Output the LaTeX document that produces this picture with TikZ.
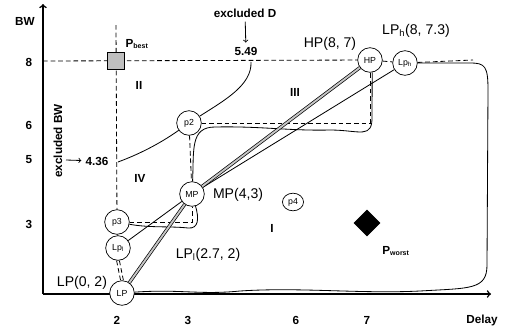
\documentclass[tikz,border=0pt]{standalone}
\usepackage{fontspec}
\setmainfont{Liberation Sans}
\usetikzlibrary{shapes.geometric}
\tikzset{
  pt/.style={circle,draw,fill=white,line width=0.6pt,minimum size=21pt,inner sep=0pt,font=\fontsize{7.5}{8}\selectfont},
  lbl/.style={font=\fontsize{12}{14}\selectfont},
  bold/.style={font=\fontsize{10}{12}\selectfont\bfseries},
  hatch/.style={draw,line width=0.6pt,double=gray!45,double distance=1.6pt},
  grid/.style={dash pattern=on 4pt off 2.5pt,line width=0.7pt},
}
\begin{document}
\begin{tikzpicture}[x=0.03cm,y=-0.03cm,line width=0.7pt]
        \useasboundingbox (0,0) rectangle (506,327);
        % axes
        \coordinate (o) at (43,294);
        \coordinate (xe) at (491,294);
        \coordinate (ye) at (43,4);
        \draw[line width=1.3pt,->] (o) -- (ye);
        \draw[line width=1.3pt,->] (o) -- (xe);
        \begin{scope}[every node/.style={bold}]
        \node (bw) at (25,21) {BW};
        \node (y8) at (29,62) {8};
        \node (y6) at (29,125) {6};
        \node (y5) at (29,160) {5};
        \node (y3) at (29,224) {3};
        \node (x2) at (117,320) {2};
        \node (x3) at (188,320) {3};
        \node (x6) at (296,320) {6};
        \node (x7) at (367,320) {7};
        \node (delay) at (482,320) {Delay};
        \node[rotate=90] (exbw) at (58,141) {excluded BW};
        \node (exd) at (245,13) {excluded D};
        \node (d549) at (246,51) {5.49};
        \node (b436) at (97,161) {4.36};
        \node (rII) at (139,85) {II};
        \node (rIII) at (295,92) {III};
        \node (rIV) at (140,178) {IV};
        \node (rI) at (272,228) {I};
        \node (lbest) at (137,44) {P\textsubscript{\fontsize{6}{7}\selectfont best}};
        \node (lworst) at (396,251) {P\textsubscript{\fontsize{6}{7}\selectfont worst}};
        \end{scope}
        % points
        \begin{scope}[every node/.style={pt}]
        \node (HP) at (370,60) {HP};
        \node (LPh) at (405,63) {Lp\textsubscript{h}};
        \node (p2) at (189,123) {p2};
        \node (MP) at (192,194) {MP};
        \node (p3) at (117,222) {p3};
        \node (LPl) at (118,248) {Lp\textsubscript{l}};
        \node (LP) at (122,293) {LP};
        \node[ellipse,minimum width=18pt,minimum height=15pt] (p4) at (293,202) {p4};
        \end{scope}
        \begin{scope}[every node/.style={lbl}]
        \node (lHP) at (330,44) {HP(8, 7)};
        \node (lLPh) at (416,31) {LP\textsubscript{h}(8, 7.3)};
        \node (lMP) at (238,195) {MP(4,3)};
        \node (lLPl) at (208,255) {LP\textsubscript{l}(2.7, 2)};
        \node (lLP) at (82,283) {LP(0, 2)};
        \end{scope}
        % dashed grid lines
        \coordinate (vtop) at (116,25);
        \coordinate (hleft) at (43,61);
        \coordinate (htop) at (473,60);
        \draw[grid] (vtop) -- (p3);
        \draw[grid] (hleft) -- (HP);
        \draw[grid] (HP) -- (LPh) -- (htop);
        \draw[grid] (p2.east) -- (HP.south |- p2.east) -- (HP.south);
        \draw[grid] (p3.east) -- (MP.south |- p3.east) -- (MP.south);
        \draw[grid] (p2) -- (MP);
        \draw[grid] ([xshift=-1.2pt]LPl.south) -- ([xshift=-1.2pt]LP.north);
        \draw[grid] ([xshift=1.2pt]LPl.south) -- ([xshift=1.2pt]LP.north);
        % excluded marks
        \draw[->] (exd) -- (d549);
        \coordinate (a436) at (66,160);
        \draw[->] (a436) -- (b436);
        \node[draw,fill=gray!50,minimum size=15pt,inner sep=0pt] (pbest) at (116,61) {};
        \node[diamond,draw,fill=black,minimum size=22pt,inner sep=0pt] (pworst) at (367,223) {};
        % region borders
        \coordinate (c436) at (118,162);
        \coordinate (c549) at (251,62);
        \draw (c436) .. controls (145,152) and (165,140) .. (p2)
              .. controls (225,100) and (252,85) .. (c549);
        \draw (MP) .. controls (194,150) and (190,127) .. (215,127)
              .. controls (260,126) and (290,131) .. (330,130)
              .. controls (360,130) and (373,140) .. (372,115) -- (HP.-80);
        \draw (p3) .. controls (150,228) and (170,226) .. (188,228)
              .. controls (199,229) and (199,218) .. (MP);
        \draw (LP) .. controls (180,289) and (200,295) .. (240,291)
              .. controls (300,287) and (360,294) .. (420,291)
              .. controls (470,288) and (487,290) .. (487,265) -- (488,90)
              .. controls (488,66) and (485,63) .. (470,63) -- (LPh);
        \begin{scope}[every edge/.style={draw=black,line width=0.7pt}]
        \path (p3) edge (LPl)
              (LPl) edge (MP)
              (LPh) edge (MP);
        \end{scope}
        \path[hatch] (LP) -- (MP) -- (HP);
\end{tikzpicture}
\end{document}
